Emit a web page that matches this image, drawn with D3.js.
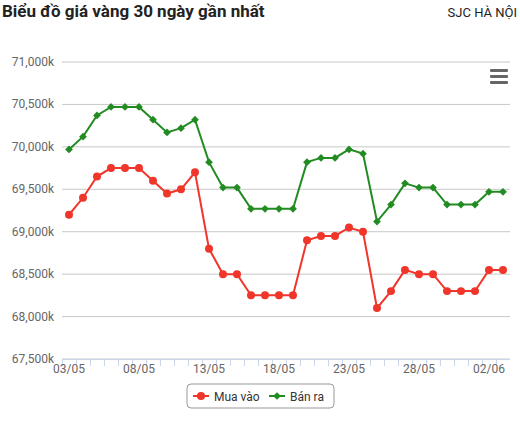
<!DOCTYPE html>
<html><head><meta charset="utf-8">
<script src="https://cdn.jsdelivr.net/npm/d3@7"></script>
<style>body{margin:0;background:#fff;font-family:Roboto,sans-serif}</style>
</head><body><svg id="c" width="520" height="423"></svg>
<script>
var dates = ["03/05","04/05","05/05","06/05","07/05","08/05","09/05","10/05","11/05","12/05","13/05","14/05","15/05","16/05","17/05","18/05","19/05","20/05","21/05","22/05","23/05","24/05","25/05","26/05","27/05","28/05","29/05","30/05","31/05","01/06","02/06","03/06"];
var buy = [69200,69400,69650,69750,69750,69750,69600,69450,69500,69700,68800,68500,68500,68250,68250,68250,68250,68900,68950,68950,69050,69000,68100,68300,68550,68500,68500,68300,68300,68300,68550,68550];
var sell = [69970,70120,70370,70470,70470,70470,70320,70170,70220,70320,69820,69520,69520,69270,69270,69270,69270,69820,69870,69870,69970,69920,69120,69320,69570,69520,69520,69320,69320,69320,69470,69470];
var yTicks = [67500,68000,68500,69000,69500,70000,70500,71000];

var svg = d3.select("#c");
var x = d3.scaleBand().domain(dates).range([62, 510]);
var y = d3.scaleLinear().domain([67500, 71000]).range([359, 62]);

// title
svg.append("text").text("Biểu đồ giá vàng 30 ngày gần nhất")
  .attr("x", 2).attr("y", 17).style("font-size", "17px").style("font-weight", "bold").attr("fill", "#222");
svg.append("text").text("SJC HÀ NỘI")
  .attr("x", 517).attr("y", 17).attr("text-anchor", "end").style("font-size", "13px").attr("fill", "#222");

// grid + y labels
svg.selectAll(".grid").data(yTicks).enter().append("line")
  .attr("x1", 62).attr("x2", 510).attr("y1", d => y(d)).attr("y2", d => y(d))
  .style("stroke", "#c8c8c8").style("stroke-width", 1);
svg.selectAll(".ylab").data(yTicks).enter().append("text")
  .text(d => d3.format(",")(d) + "k")
  .attr("x", 54).attr("y", d => y(d) + 4).attr("text-anchor", "end")
  .style("font-size", "12px").attr("fill", "#666");

// x axis
svg.append("line").attr("x1", 62).attr("x2", 510).attr("y1", 359.5).attr("y2", 359.5).style("stroke", "#ccd6eb");
svg.selectAll(".xt").data(dates).enter().append("line")
  .attr("x1", d => x(d) + 0.5).attr("x2", d => x(d) + 0.5).attr("y1", 359).attr("y2", 366)
  .style("stroke", "#ccd6eb");
svg.selectAll(".xlab").data(dates.filter((d, i) => i % 5 == 0)).enter().append("text")
  .text(d => d).attr("x", d => x(d) + x.bandwidth() / 2).attr("y", 373)
  .attr("text-anchor", "middle").style("font-size", "12px").attr("fill", "#666");

// diamond marker, square rotated 45deg
var diamond = d3.symbol().type(d3.symbolSquare).size(30);

function series(vals, color, isCircle) {
  var line = d3.line().x((d, i) => x(dates[i]) + x.bandwidth() / 2).y(d => y(d));
  svg.append("path").datum(vals).attr("d", line)
    .style("fill", "none").style("stroke", color).style("stroke-width", 2);
  svg.selectAll(".p" + color.slice(1)).data(vals).enter().append("path")
    .attr("d", isCircle ? d3.symbol().type(d3.symbolCircle).size(50) : diamond)
    .attr("transform", (d, i) => "translate(" + (x(dates[i]) + x.bandwidth() / 2) + "," + y(d) + ")" + (isCircle ? "" : " rotate(45)"))
    .attr("fill", color);
}
series(buy, "#f0352a", true);
series(sell, "#228b22", false);

// menu icon
[69, 75, 81].forEach(function (yy) {
  svg.append("rect").attr("x", 490).attr("y", yy).attr("width", 18).attr("height", 3).attr("rx", 1).attr("fill", "#666");
});

// legend
var lg = svg.append("g").attr("transform", "translate(187,384)");
lg.append("rect").attr("width", 147).attr("height", 24).attr("rx", 4)
  .style("fill", "#fff").style("stroke", "#999");
lg.append("line").attr("x1", 6).attr("x2", 22).attr("y1", 12).attr("y2", 12).style("stroke", "#f0352a").style("stroke-width", 2);
lg.append("circle").attr("cx", 14).attr("cy", 12).attr("r", 4).attr("fill", "#f0352a");
lg.append("text").text("Mua vào").attr("x", 27).attr("y", 16.5).style("font-size", "12px").attr("fill", "#333");
lg.append("line").attr("x1", 82).attr("x2", 98).attr("y1", 12).attr("y2", 12).style("stroke", "#228b22").style("stroke-width", 2);
lg.append("path").attr("d", diamond).attr("transform", "translate(90,12) rotate(45)").attr("fill", "#228b22");
lg.append("text").text("Bán ra").attr("x", 103).attr("y", 16.5).style("font-size", "12px").attr("fill", "#333");
</script></body></html>
